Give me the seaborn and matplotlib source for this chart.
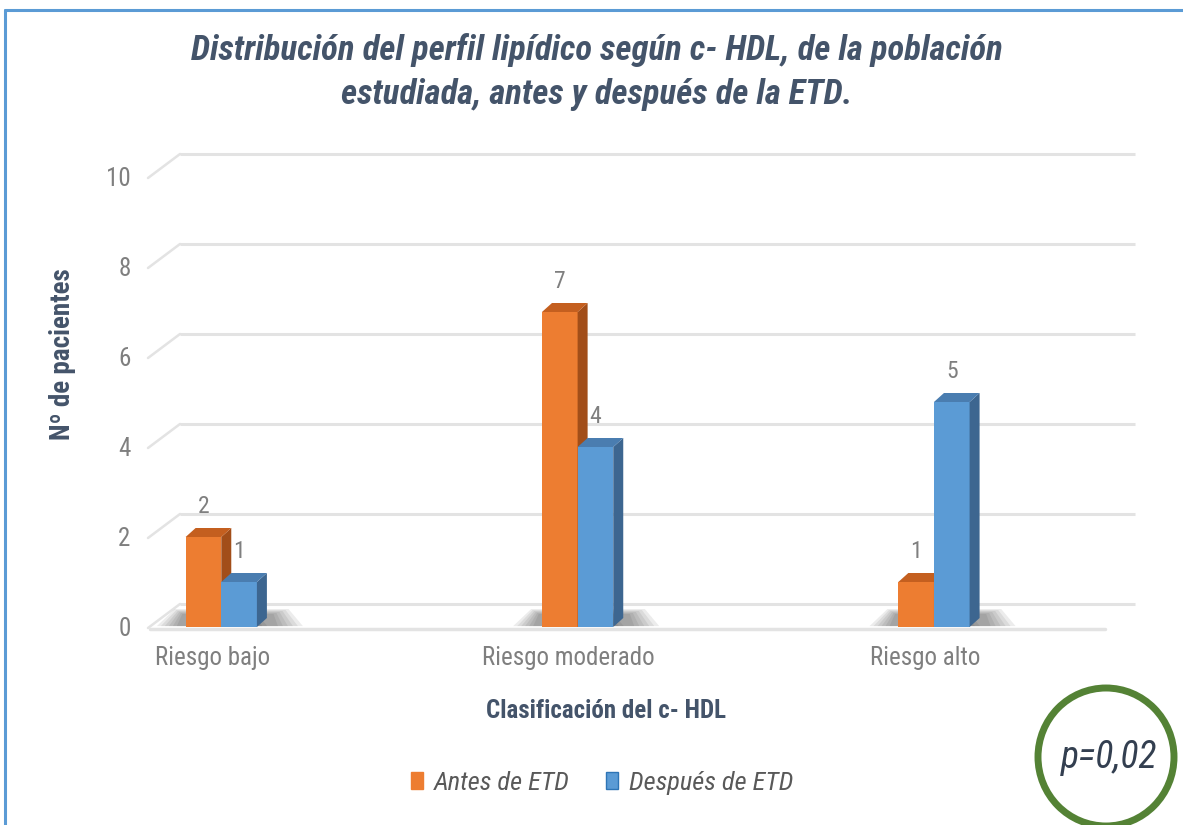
import matplotlib
matplotlib.use("Agg")
import matplotlib.pyplot as plt
import matplotlib.transforms as mtransforms
from matplotlib.patches import Polygon, Ellipse, Patch
from matplotlib.lines import Line2D
from matplotlib import font_manager
import seaborn as sns
import pandas as pd

# ---- data ----
categories = ["Riesgo bajo", "Riesgo moderado", "Riesgo alto"]
antes = [2, 7, 1]
despues = [1, 4, 5]
series_names = ["Antes de ETD", "Después de ETD"]
yticks = [0, 2, 4, 6, 8, 10]

title = "Distribución del perfil lipídico según c- HDL, de la población\nestudiada, antes y después de la ETD."
xlabel = "Clasificación del c- HDL"
ylabel = "Nº de pacientes"
ptext = "p=0,02"

# ---- style ----
sns.set_style("white")
names = {f.name for f in font_manager.fontManager.ttflist}
cond = [n for n in ["Liberation Sans Narrow", "DejaVu Sans Condensed", "Roboto Condensed",
                    "Open Sans Condensed"] if n in names]
plt.rcParams["font.family"] = cond + ["DejaVu Sans"]
plt.rcParams["font.stretch"] = "condensed"

ORANGE = "#ED7D31"
ORANGE_SIDE = "#A24E19"
ORANGE_TOP = "#C45F1F"
BLUE = "#5B9BD5"
BLUE_SIDE = "#3D6690"
BLUE_TOP = "#4A7DB0"
TXT = "#44546A"
TICK = "#7F7F7F"
GRID = "#E3E3E3"

W, H = 1183, 825
fig = plt.figure(figsize=(W / 100, H / 100), dpi=100)
ax = fig.add_axes([150 / W, 198 / H, 955 / W, 450 / H])

df = pd.DataFrame({
    "cat": categories * 2,
    "val": antes + despues,
    "serie": [series_names[0]] * len(categories) + [series_names[1]] * len(categories),
})

sns.barplot(data=df, x="cat", y="val", hue="serie", hue_order=series_names,
            palette=[ORANGE, BLUE], width=0.2, saturation=1, ax=ax,
            legend=False, edgecolor="none", linewidth=0)

ax.set_xlim(-0.2, 2.48)
ax.set_ylim(0, 10)
ax.set_yticks(yticks)
ax.set_xlabel("")
ax.set_ylabel("")
for s in ax.spines.values():
    s.set_visible(False)
ax.grid(False)

px_x = (2.48 + 0.2) / 955.0
px_y = 10 / 450.0

# back gridlines with 3D offset
gdx, gdy = 30, 23
for v in yticks:
    ax.plot([gdx / 955, 1 + gdx / 955], [v + gdy * px_y] * 2, transform=ax.get_yaxis_transform(),
            color=GRID, lw=2.2, zorder=0.5, clip_on=False, solid_capstyle="butt")
    ax.plot([-2 / 955, gdx / 955], [v - 1 * px_y, v + gdy * px_y], transform=ax.get_yaxis_transform(),
            color=GRID, lw=1.8, zorder=0.5, clip_on=False)
ax.plot([0, 1], [-0.05, -0.05], transform=ax.get_yaxis_transform(), color=GRID, lw=2.5,
        zorder=0.5, clip_on=False)

# 3D faces of bars
dx, dy = 10 * px_x, 9 * px_y
n = len(categories)
for i, p in enumerate(ax.patches[: 2 * n]):
    x0, w, h = p.get_x(), p.get_width(), p.get_height()
    is_orange = i < n
    z = 2 if is_orange else 3
    p.set_zorder(z)
    side_c = ORANGE_SIDE if is_orange else BLUE_SIDE
    top_c = ORANGE_TOP if is_orange else BLUE_TOP
    # soft floor shadow
    for k in range(6):
        ext = (36 - 5 * k) * px_x
        sh = Polygon([(x0 - ext * 0.8, 0.02), (x0 + w + dx + ext, 0.02),
                      (x0 + w + dx + ext * 0.6, dy + (9 - k) * px_y),
                      (x0 - ext * 0.3, dy + (9 - k) * px_y)],
                     closed=True, facecolor="#303030", alpha=0.09, edgecolor="none", zorder=1)
        ax.add_patch(sh)
    side = Polygon([(x0 + w, 0), (x0 + w, h), (x0 + w + dx, h + dy), (x0 + w + dx, dy)],
                   closed=True, facecolor=side_c, edgecolor="none", zorder=z + 0.1)
    top = Polygon([(x0, h), (x0 + dx, h + dy), (x0 + w + dx, h + dy), (x0 + w, h)],
                  closed=True, facecolor=top_c, edgecolor="none", zorder=z + 0.1)
    ax.add_patch(side)
    ax.add_patch(top)
    ax.annotate(f"{h:g}", (x0 + w / 2, h), xytext=(0, 22), textcoords="offset points",
                ha="center", va="center", fontsize=17, color=TICK, zorder=5)

# ticks
ax.tick_params(axis="x", length=0, pad=14, labelsize=18, labelcolor=TICK)
ax.tick_params(axis="y", length=0, pad=14, labelsize=18, labelcolor=TICK)
off = mtransforms.ScaledTranslation(-9 / 100, 0, fig.dpi_scale_trans)
for lbl in ax.get_xticklabels():
    lbl.set_transform(lbl.get_transform() + off)

# titles
fig.text(597 / W, 1 - 72 / H, title, ha="center", va="center", fontsize=25, style="italic",
         fontweight="bold", color=TXT, linespacing=1.42)
fig.text(62 / W, 1 - 354 / H, ylabel, ha="center", va="center", rotation=90, fontsize=19.5,
         fontweight="bold", color=TXT)
fig.text(606 / W, 1 - 711 / H, xlabel, ha="center", va="center", fontsize=18,
         fontweight="bold", color=TXT)

# legend
handles = [Patch(facecolor=ORANGE, edgecolor=ORANGE), Patch(facecolor=BLUE, edgecolor="#2E75B6")]
leg = fig.legend(handles, series_names, loc="center", bbox_to_anchor=(602 / W, 1 - 783 / H), ncol=2,
                 frameon=False, prop=dict(style="italic", size=19, stretch="condensed"),
                 handlelength=0.45, handleheight=0.6, columnspacing=1.4, handletextpad=0.4)
for t in leg.get_texts():
    t.set_color("#595959")

# p-value circle
fig.add_artist(Ellipse((1106 / W, 1 - 757 / H), 136 / W, 138 / H, transform=fig.transFigure,
                       facecolor="none", edgecolor="#548235", lw=5))
fig.text(1109 / W, 1 - 757 / H, ptext, ha="center", va="center", fontsize=27, style="italic",
         color="#333F50")

# chart border
fig.add_artist(Line2D([5 / W, 1], [1 - 10 / H, 1 - 10 / H], transform=fig.transFigure,
                      color="#5B9BD5", lw=2.2))
fig.add_artist(Line2D([5 / W, 5 / W], [0, 1 - 10 / H], transform=fig.transFigure,
                      color="#5B9BD5", lw=2.2))

fig.savefig("out.png", dpi=100)
